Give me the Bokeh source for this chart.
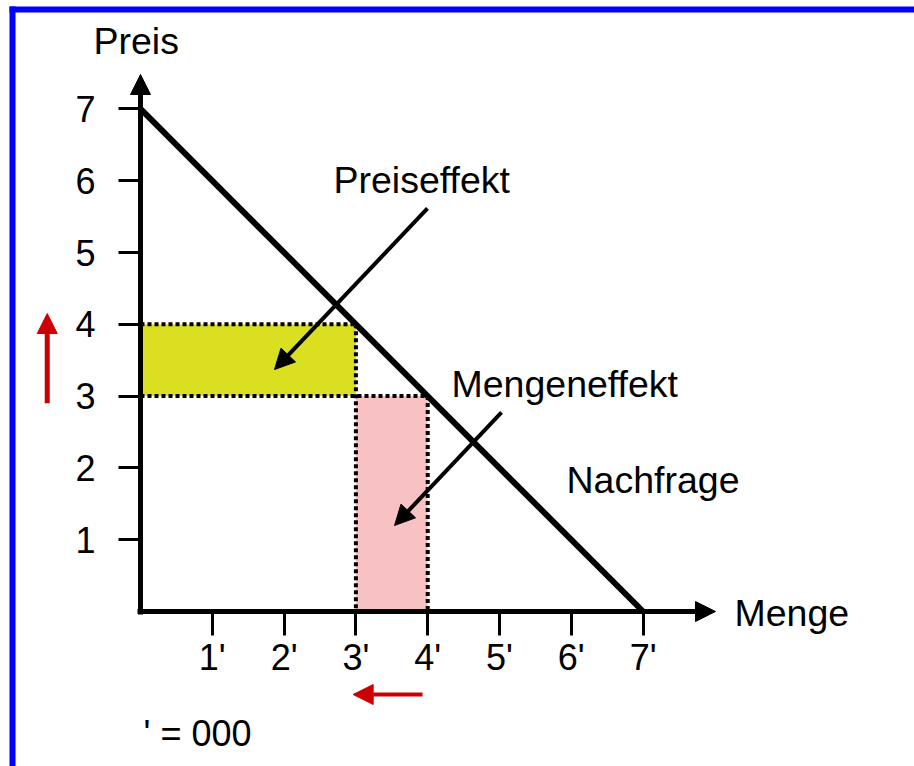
from bokeh.plotting import figure
from bokeh.models import Range1d, LinearAxis, FixedTicker, Arrow, NormalHead
from bokeh.core.properties import value
from bokeh.embed import file_html
from bokeh.resources import INLINE

# ---- data ----
price_ticks = [1, 2, 3, 4, 5, 6, 7]
qty_ticks = [1, 2, 3, 4, 5, 6, 7]
qty_tick_labels = ["1'", "2'", "3'", "4'", "5'", "6'", "7'"]
demand_qty = [0, 7]
demand_price = [7, 0]
price_old = 3
price_new = 4
qty_old = 4
qty_new = 3

FONT = value("Liberation Sans")
U = 71.8  # pixels per unit
W, H = 914, 766
X0, Y0 = 140, 611  # origin position on the canvas

p = figure(width=W, height=H,
           x_range=Range1d(-X0 / U, (W - X0) / U),
           y_range=Range1d(-(H - Y0) / U, Y0 / U),
           x_axis_location=None, y_axis_location=None,
           toolbar_location=None, output_backend="svg", min_border=0)
p.outline_line_color = None
p.background_fill_color = "white"
p.border_fill_color = "white"
for g in p.grid:
    g.visible = False

# blue frame (left and top bands)
p.quad(left=[(9 - X0) / U], right=[(15 - X0) / U], bottom=[-3.0], top=[(Y0 - 6) / U],
       fill_color="#0000ff", line_color=None)
p.quad(left=[(9 - X0) / U], right=[12.0], bottom=[(Y0 - 12) / U], top=[(Y0 - 6) / U],
       fill_color="#0000ff", line_color=None)

# effect areas
p.quad(left=[0], right=[qty_new], bottom=[price_old], top=[price_new],
       fill_color="#dadf1f", line_color=None)
p.quad(left=[qty_new], right=[qty_old], bottom=[0], top=[price_old],
       fill_color="#f8c2c5", line_color=None)

# dotted guide lines
p.multi_line(xs=[[0, qty_new], [qty_new, qty_new], [0, qty_old], [qty_old, qty_old]],
             ys=[[price_new, price_new], [price_new, 0], [price_old, price_old], [price_old, 0]],
             line_color="black", line_width=4, line_dash="4 3")

# demand curve
p.line(demand_qty, demand_price, line_color="black", line_width=6)

# axes
xaxis = LinearAxis(fixed_location=0, ticker=FixedTicker(ticks=qty_ticks),
                   major_label_overrides={t: l for t, l in zip(qty_ticks, qty_tick_labels)},
                   bounds=(-0.035, 7.8))
yaxis = LinearAxis(fixed_location=0, ticker=FixedTicker(ticks=price_ticks),
                   bounds=(-0.035, 7.25))
for ax in (xaxis, yaxis):
    ax.axis_line_width = 5
    ax.axis_line_color = "black"
    ax.major_tick_in = 0
    ax.major_tick_line_width = 3
    ax.major_tick_line_color = "black"
    ax.minor_tick_line_color = None
    ax.major_label_text_font = "Liberation Sans"
    ax.major_label_text_font_size = "36px"
    ax.major_label_text_color = "black"
xaxis.major_tick_out = 24
xaxis.major_label_standoff = 1
yaxis.major_tick_out = 22
yaxis.major_label_standoff = 23
p.add_layout(xaxis, "below")
p.add_layout(yaxis, "left")

# axis arrow heads
p.add_layout(Arrow(end=NormalHead(size=20, fill_color="black", line_color="black"),
                   x_start=0, y_start=7.0, x_end=0, y_end=7.479,
                   line_width=5, line_color="black"))
p.add_layout(Arrow(end=NormalHead(size=20, fill_color="black", line_color="black"),
                   x_start=7.5, y_start=0, x_end=8.008, y_end=0,
                   line_width=5, line_color="black"))

# effect pointer arrows
p.add_layout(Arrow(end=NormalHead(size=20, fill_color="black", line_color="black"),
                   x_start=3.997, y_start=5.613, x_end=1.866, y_end=3.370,
                   line_width=4, line_color="black"))
p.add_layout(Arrow(end=NormalHead(size=20, fill_color="black", line_color="black"),
                   x_start=5.028, y_start=2.772, x_end=3.538, y_end=1.198,
                   line_width=4, line_color="black"))

# red direction arrows
p.add_layout(Arrow(end=NormalHead(size=20, fill_color="#cc0000", line_color="#cc0000"),
                   x_start=-1.299, y_start=2.901, x_end=-1.299, y_end=4.150,
                   line_width=5, line_color="#cc0000"))
p.add_layout(Arrow(end=NormalHead(size=20, fill_color="#cc0000", line_color="#cc0000"),
                   x_start=3.928, y_start=-1.156, x_end=2.962, y_end=-1.156,
                   line_width=4, line_color="#cc0000"))

# texts
p.text(x=[-0.655, 2.688, 4.331, 5.933, 8.273],
       y=[7.946, 6.010, 3.168, 1.831, -0.021],
       text=["Preis", "Preiseffekt", "Mengeneffekt", "Nachfrage", "Menge"],
       text_font=FONT, text_font_size="37.5px", text_color="black",
       text_align="left", text_baseline="alphabetic")
p.text(x=[0.042], y=[-1.699], text=["' = 000"],
       text_font=FONT, text_font_size="36px", text_color="black",
       text_align="left", text_baseline="alphabetic")

open("out.html", "w").write(file_html(p, INLINE))
